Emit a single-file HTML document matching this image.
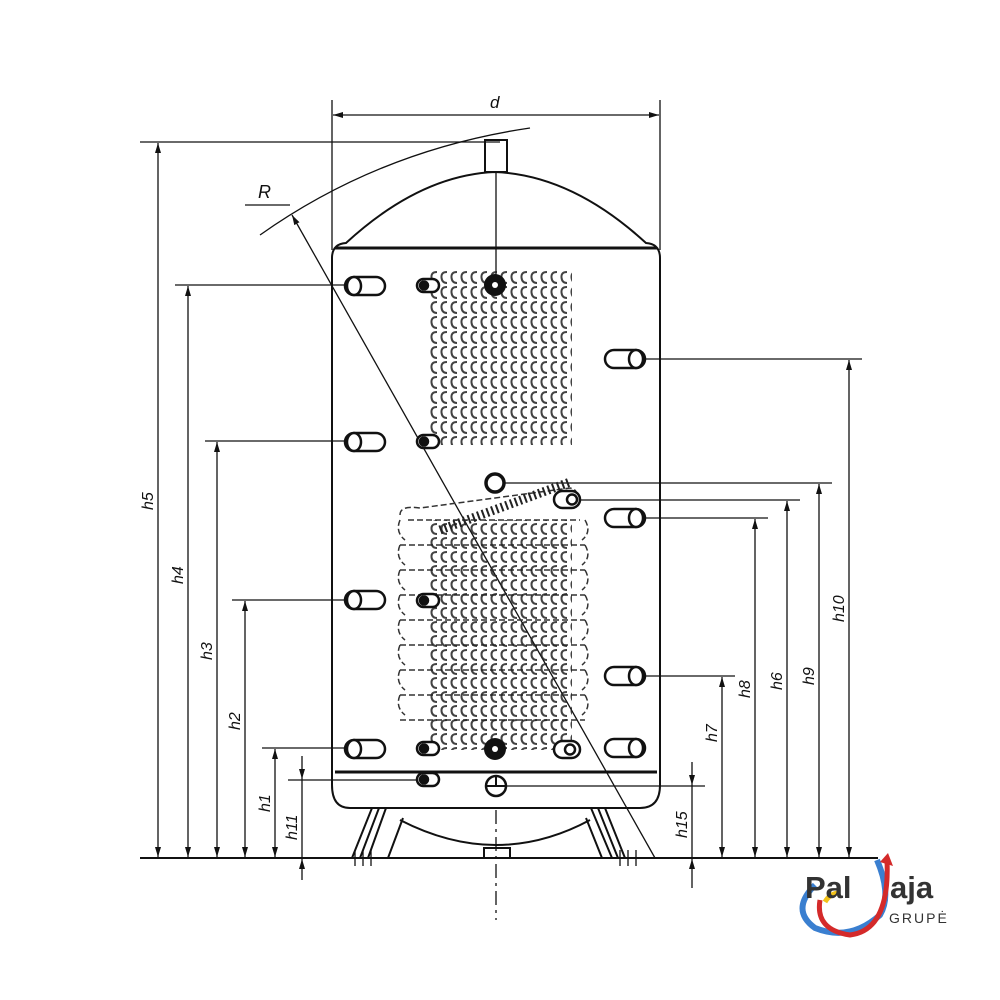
<!DOCTYPE html>
<html><head><meta charset="utf-8"><style>
html,body{margin:0;padding:0;background:#fff;width:1000px;height:1000px;overflow:hidden}
svg{display:block}
text{font-family:"Liberation Sans",sans-serif;font-style:italic;fill:#111}
</style></head><body>
<svg width="1000" height="1000" viewBox="0 0 1000 1000" xmlns="http://www.w3.org/2000/svg">
<defs>
<marker id="a" viewBox="0 0 10 10" refX="10" refY="5" markerWidth="10" markerHeight="14" orient="auto-start-reverse" markerUnits="userSpaceOnUse"><path d="M0,2 L10,5 L0,8 Z" fill="#111"/></marker>
<pattern id="cu" x="430" y="270" width="10" height="15" patternUnits="userSpaceOnUse"><path d="M7,2 Q1,2 1.5,7.5 Q2,13 7,13" fill="none" stroke="#222" stroke-width="2"/></pattern>
<pattern id="cl" x="430" y="508" width="10" height="14" patternUnits="userSpaceOnUse"><path d="M7,2 Q1,2 1.5,7 Q2,12 7,12" fill="none" stroke="#222" stroke-width="2"/></pattern>
</defs>
<g stroke="#111" fill="none" stroke-width="1.3">
<line x1="332" y1="100" x2="332" y2="250"/><line x1="660" y1="100" x2="660" y2="250"/>
<line x1="333" y1="115" x2="659" y2="115" marker-start="url(#a)" marker-end="url(#a)"/>
<path d="M332,258 Q332,244 346,243 Q420,175 495,172 Q572,175 646,243 Q660,244 660,258 L660,785 Q660,808 640,808 L350,808 Q332,808 332,785 Z" stroke-width="2"/>
<line x1="335" y1="248" x2="657" y2="248" stroke-width="3"/>
<line x1="335" y1="772" x2="657" y2="772" stroke-width="3"/>
<rect x="485" y="140" width="22" height="32" fill="#fff" stroke-width="2"/>
<line x1="496" y1="172" x2="496" y2="275" />
<path d="M400,820 Q497,870 590,820" stroke-width="2"/>
<path d="M372,808 L352,858 M386,808 L368,858 M403,818 L388,858 M379,808 L360,858" stroke-width="2"/>
<path d="M605,808 L625,858 M591,808 L612,858 M586,818 L602,858 M598,808 L618,858" stroke-width="2"/>
<rect x="484" y="848" width="26" height="10" stroke-width="2"/>
<line x1="496" y1="810" x2="496" y2="920" stroke-dasharray="14,5,3,5"/>
<line x1="140" y1="858" x2="878" y2="858" stroke-width="2"/>
<line x1="355" y1="850" x2="355" y2="866"/><line x1="363" y1="850" x2="363" y2="866"/><line x1="371" y1="850" x2="371" y2="866"/>
<line x1="620" y1="850" x2="620" y2="866"/><line x1="628" y1="850" x2="628" y2="866"/><line x1="636" y1="850" x2="636" y2="866"/>
<line x1="655" y1="858" x2="292" y2="215" marker-end="url(#a)"/>
<path d="M260,235 Q380,150 530,128"/>
<line x1="245" y1="205" x2="290" y2="205"/>
<line x1="140" y1="142" x2="500" y2="142"/>
<line x1="158" y1="143" x2="158" y2="857" marker-start="url(#a)" marker-end="url(#a)"/>
<line x1="175" y1="285" x2="355" y2="285"/>
<line x1="188" y1="286" x2="188" y2="857" marker-start="url(#a)" marker-end="url(#a)"/>
<line x1="205" y1="441" x2="355" y2="441"/>
<line x1="217" y1="442" x2="217" y2="857" marker-start="url(#a)" marker-end="url(#a)"/>
<line x1="232" y1="600" x2="355" y2="600"/>
<line x1="245" y1="601" x2="245" y2="857" marker-start="url(#a)" marker-end="url(#a)"/>
<line x1="262" y1="748" x2="355" y2="748"/>
<line x1="275" y1="749" x2="275" y2="857" marker-start="url(#a)" marker-end="url(#a)"/>
<line x1="288" y1="780" x2="430" y2="780"/>
<line x1="302" y1="756" x2="302" y2="779" marker-end="url(#a)"/>
<line x1="302" y1="880" x2="302" y2="859" marker-end="url(#a)"/>
<line x1="302" y1="779" x2="302" y2="859"/>
<line x1="635" y1="359" x2="862" y2="359"/>
<line x1="849" y1="360" x2="849" y2="857" marker-start="url(#a)" marker-end="url(#a)"/>
<line x1="500" y1="483" x2="832" y2="483"/>
<line x1="819" y1="484" x2="819" y2="857" marker-start="url(#a)" marker-end="url(#a)"/>
<line x1="580" y1="500" x2="800" y2="500"/>
<line x1="787" y1="501" x2="787" y2="857" marker-start="url(#a)" marker-end="url(#a)"/>
<line x1="630" y1="518" x2="768" y2="518"/>
<line x1="755" y1="519" x2="755" y2="857" marker-start="url(#a)" marker-end="url(#a)"/>
<line x1="630" y1="676" x2="735" y2="676"/>
<line x1="722" y1="677" x2="722" y2="857" marker-start="url(#a)" marker-end="url(#a)"/>
<line x1="496" y1="786" x2="705" y2="786"/>
<line x1="692" y1="762" x2="692" y2="785" marker-end="url(#a)"/>
<line x1="692" y1="888" x2="692" y2="859" marker-end="url(#a)"/>
<line x1="692" y1="785" x2="692" y2="859"/>
</g>
<rect x="430" y="270" width="142" height="175" fill="url(#cu)" opacity="0.85"/>
<g fill="none" stroke="#333" stroke-width="1.5" stroke-dasharray="6,3">
<path d="M400,515 Q400,505 420,508 L570,488 Q580,490 575,500"/>
<path d="M408,520 L580,520 M400,545 L585,545 M400,570 L585,570 M400,595 L585,595 M400,620 L585,620 M400,645 L585,645 M400,670 L585,670 M400,695 L585,695 M400,720 L585,720"/>
<path d="M400,520 Q395,532 405,540 M400,545 Q395,557 405,565 M400,570 Q395,582 405,590 M400,595 Q395,607 405,615 M400,620 Q395,632 405,640 M400,645 Q395,657 405,665 M400,670 Q395,682 405,690 M400,695 Q395,707 405,715"/>
<path d="M585,520 Q592,532 582,540 M585,545 Q592,557 582,565 M585,570 Q592,582 582,590 M585,595 Q592,607 582,615 M585,620 Q592,632 582,640 M585,645 Q592,657 582,665 M585,670 Q592,682 582,690 M585,695 Q592,707 582,715"/>
</g>
<rect x="430" y="520" width="142" height="230" fill="url(#cl)" opacity="0.85"/>
<path d="M440,530 L570,482" stroke="#222" stroke-width="9" stroke-dasharray="2,3" fill="none"/>
<g stroke="#111" stroke-width="2.5" fill="#fff">
<g id="cyl"><rect x="345" y="277" width="40" height="18" rx="9"/><ellipse cx="354" cy="286" rx="7" ry="9"/></g>
<use href="#cyl" y="156"/><use href="#cyl" y="314"/><use href="#cyl" y="463"/>
<g id="cyr"><rect x="605" y="350" width="40" height="18" rx="9"/><ellipse cx="636" cy="359" rx="7" ry="9"/></g>
<use href="#cyr" y="159"/><use href="#cyr" y="317"/><use href="#cyr" y="389"/>
<g id="ov"><rect x="417" y="279" width="22" height="13" rx="6.5"/><circle cx="424" cy="285.5" r="4" fill="#111"/></g>
<use href="#ov" y="156"/><use href="#ov" y="315"/><use href="#ov" y="463"/><use href="#ov" y="494"/>
<g><rect x="554" y="491" width="26" height="17" rx="8.5"/><circle cx="572" cy="499.5" r="5"/></g>
<g><rect x="554" y="741" width="26" height="17" rx="8.5"/><circle cx="570" cy="749.5" r="5"/></g>
</g>
<circle cx="495" cy="285" r="11" fill="#111"/><circle cx="495" cy="285" r="3" fill="#fff"/>
<circle cx="495" cy="749" r="11" fill="#111"/><circle cx="495" cy="749" r="3" fill="#fff"/>
<circle cx="495" cy="483" r="9" fill="#fff" stroke="#111" stroke-width="3.5"/>
<circle cx="496" cy="786" r="10" fill="#fff" stroke="#111" stroke-width="2.5"/><line x1="486" y1="786" x2="506" y2="786" stroke="#111" stroke-width="2"/><line x1="496" y1="776" x2="496" y2="786" stroke="#111" stroke-width="2"/>
<text x="490" y="108" font-size="17">d</text>
<text x="258" y="198" font-size="18">R</text>
<g font-size="16">
<text transform="translate(153,510) rotate(-90)">h5</text>
<text transform="translate(183,584) rotate(-90)">h4</text>
<text transform="translate(212,660) rotate(-90)">h3</text>
<text transform="translate(240,730) rotate(-90)">h2</text>
<text transform="translate(270,812) rotate(-90)">h1</text>
<text transform="translate(297,840) rotate(-90)">h11</text>
<text transform="translate(687,838) rotate(-90)">h15</text>
<text transform="translate(717,742) rotate(-90)">h7</text>
<text transform="translate(750,698) rotate(-90)">h8</text>
<text transform="translate(782,690) rotate(-90)">h6</text>
<text transform="translate(814,685) rotate(-90)">h9</text>
<text transform="translate(844,622) rotate(-90)">h10</text>
</g>
<path d="M815,885 Q790,910 815,928 Q850,942 880,915 Q892,895 877,860" fill="none" stroke="#3a7fd0" stroke-width="6"/>
<path d="M820,900 Q815,930 850,935 Q890,930 887,860" fill="none" stroke="#d42a2a" stroke-width="5"/>
<path d="M825,902 Q830,893 840,893" fill="none" stroke="#f2c21a" stroke-width="5"/>
<path d="M880,862 L888,853 L893,866 Z" fill="#d42a2a"/>
<text x="805" y="898" font-size="31" font-weight="bold" style="font-style:normal;fill:#333">Pal</text>
<text x="890" y="898" font-size="31" font-weight="bold" style="font-style:normal;fill:#333">aja</text>
<text x="889" y="923" font-size="14" letter-spacing="2" style="font-style:normal;fill:#333">GRUPĖ</text>
</svg>
</body></html>
